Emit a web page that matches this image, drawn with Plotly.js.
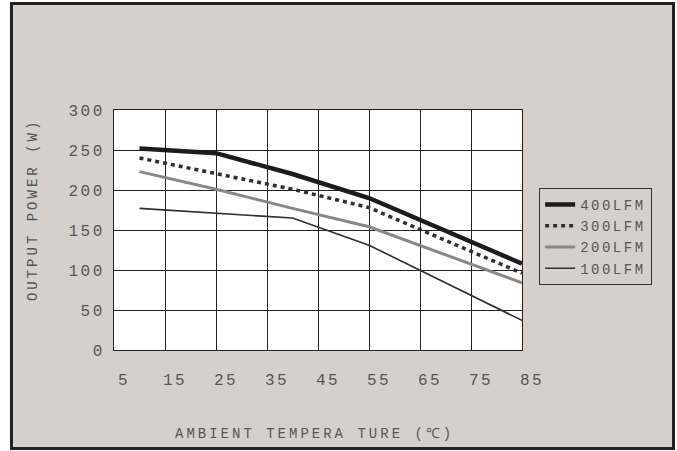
<!DOCTYPE html>
<html>
<head>
<meta charset="utf-8">
<script src="https://cdn.plot.ly/plotly-3.0.1.min.js"></script>
<style>
  html, body { margin: 0; padding: 0; background: #ffffff; }
  #frame { position: absolute; left: 10px; top: 2px; width: 665px; height: 448px;
           box-sizing: border-box; border: 3px solid #222222; background: #d6d0cd; }
  #chart { position: absolute; left: 0; top: 0; width: 677px; height: 451px; }
  .xtick text, .ytick text { letter-spacing: 2.5px; }
  .annotation-text { letter-spacing: 3px; }
  .legendtext { letter-spacing: 2.5px; }
</style>
</head>
<body>
<div id="frame"></div>
<div id="chart"></div>
<script>
// Data
const seriesNames = ["400LFM", "300LFM", "200LFM", "100LFM"];
const temp400 = [10, 25, 40, 55, 85];
const power400 = [252, 246, 220, 190, 108];
const temp300 = [10, 25, 40, 55, 85];
const power300 = [240, 220, 201, 178, 96];
const temp200 = [10, 25, 40, 55, 85];
const power200 = [223, 201, 177, 154, 84];
const temp100 = [10, 25, 40, 55, 85];
const power100 = [177, 171, 165, 131, 37];
const xTickVals = [5, 15, 25, 35, 45, 55, 65, 75, 85];
const yTickVals = [0, 50, 100, 150, 200, 250, 300];

const mono = "'Liberation Mono', 'Courier New', monospace";

const traces = [
  { x: temp400, y: power400, name: seriesNames[0], mode: "lines",
    line: { color: "#1c1c1c", width: 4.5 } },
  { x: temp300, y: power300, name: seriesNames[1], mode: "lines",
    line: { color: "#2e2e33", width: 3.5, dash: "4px,4px" } },
  { x: temp200, y: power200, name: seriesNames[2], mode: "lines",
    line: { color: "#8e8683", width: 3 } },
  { x: temp100, y: power100, name: seriesNames[3], mode: "lines",
    line: { color: "#2e2e33", width: 1.6 } }
];

const layout = {
  width: 677, height: 451,
  margin: { l: 114, r: 155, t: 110, b: 101 },
  paper_bgcolor: "rgba(0,0,0,0)",
  plot_bgcolor: "#ffffff",
  showlegend: true,
  font: { family: mono, color: "#555555", size: 16 },
  xaxis: {
    range: [5, 85], tickvals: xTickVals, ticktext: xTickVals.map(String),
    showgrid: true, gridcolor: "#222222", gridwidth: 1,
    showline: true, linecolor: "#222222", linewidth: 1, mirror: true,
    zeroline: false, ticks: "outside", ticklen: 15, tickcolor: "rgba(0,0,0,0)",
    ticklabelshift: 10,
    tickfont: { family: mono, size: 16, color: "#555555" }
  },
  yaxis: {
    range: [0, 300], tickvals: yTickVals, ticktext: yTickVals.map(String),
    showgrid: true, gridcolor: "#222222", gridwidth: 1,
    showline: true, linecolor: "#222222", linewidth: 1, mirror: true,
    zeroline: false, ticks: "outside", ticklen: 5, tickcolor: "rgba(0,0,0,0)",
    tickfont: { family: mono, size: 16, color: "#555555" }
  },
  legend: {
    x: 1.042, y: 0.675, xanchor: "left", yanchor: "top",
    bgcolor: "rgba(0,0,0,0)", bordercolor: "#333333", borderwidth: 1,
    font: { family: mono, size: 14, color: "#555555" },
    tracegroupgap: 0
  },
  annotations: [
    { text: "OUTPUT POWER (W)", xref: "paper", yref: "paper",
      x: -0.1985, y: 0.583, xanchor: "center", yanchor: "middle",
      textangle: -90, showarrow: false,
      font: { family: mono, size: 14, color: "#555555" } },
    { text: "AMBIENT TEMPERA TURE (℃)", xref: "paper", yref: "paper",
      x: 0.4926, y: -0.35, xanchor: "center", yanchor: "middle",
      showarrow: false,
      font: { family: mono, size: 14, color: "#555555" } }
  ]
};

Plotly.newPlot("chart", traces, layout, { displayModeBar: false, staticPlot: true });
</script>
</body>
</html>
